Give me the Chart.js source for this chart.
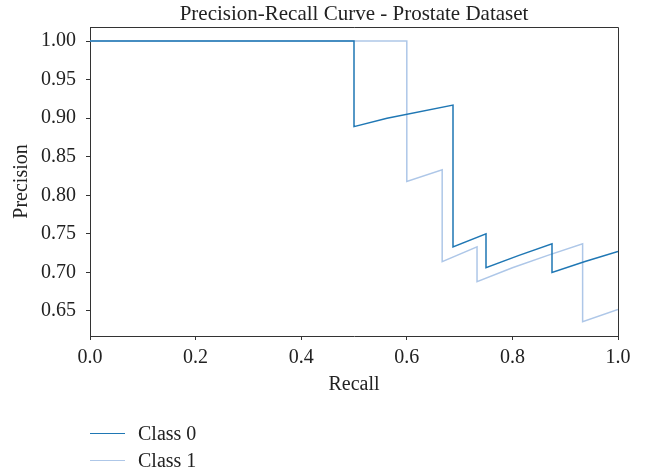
<!DOCTYPE html>
<html>
<head>
<meta charset="utf-8">
<script src="https://cdn.jsdelivr.net/npm/chart.js@4.4.0/dist/chart.umd.min.js"></script>
<style>
  html, body { margin: 0; padding: 0; background: #ffffff; }
  #wrap { position: relative; width: 653px; height: 473px; }
  #legend { position: absolute; left: 90px; top: 420px; font-family: 'Liberation Serif', serif; font-size: 20px; color: #222; }
  .item { display: flex; align-items: center; height: 27px; }
  .swatch { width: 35px; height: 0; border-top: 1.5px solid; margin-right: 13px; }
</style>
</head>
<body>
<div id="wrap">
  <canvas id="prChart" width="653" height="473"></canvas>
  <div id="legend"></div>
</div>
<script>
// Precision-recall points
const class0Recall = [0.0, 0.5, 0.5, 0.5625, 0.6875, 0.6875, 0.75, 0.75, 0.8125, 0.875, 0.875, 0.9375, 1.0];
const class0Precision = [1.0, 1.0, 0.889, 0.900, 0.917, 0.733, 0.750, 0.706, 0.722, 0.737, 0.700, 0.714, 0.727];

const class1Recall = [0.0, 0.6, 0.6, 0.667, 0.667, 0.733, 0.733, 0.8, 0.867, 0.933, 0.933, 1.0];
const class1Precision = [1.0, 1.0, 0.818, 0.833, 0.714, 0.733, 0.688, 0.706, 0.722, 0.737, 0.636, 0.652];

const seriesNames = ['Class 0', 'Class 1'];
const seriesColors = ['#1f77b4', '#aec7e8'];

const xTicks = [0.0, 0.2, 0.4, 0.6, 0.8, 1.0];
const yTicks = [0.65, 0.70, 0.75, 0.80, 0.85, 0.90, 0.95, 1.00];

const FONT = "'Liberation Serif', serif";
const AXIS_COLOR = '#333333';

function toPoints(xs, ys) {
  return xs.map((x, i) => ({ x: x, y: ys[i] }));
}

// draw top and right spines like matplotlib
const frameBox = {
  id: 'frameBox',
  afterDraw(chart) {
    const a = chart.chartArea;
    const ctx = chart.ctx;
    ctx.save();
    ctx.strokeStyle = AXIS_COLOR;
    ctx.lineWidth = 1;
    ctx.beginPath();
    ctx.moveTo(a.left, a.top + 0.5);
    ctx.lineTo(a.right + 0.5, a.top + 0.5);
    ctx.lineTo(a.right + 0.5, a.bottom);
    ctx.stroke();
    ctx.restore();
  }
};

document.addEventListener('DOMContentLoaded', function() {
  const ctx = document.getElementById('prChart');

  new Chart(ctx, {
    type: 'scatter',
    data: {
      datasets: [
        {
          label: seriesNames[0],
          data: toPoints(class0Recall, class0Precision),
          borderColor: seriesColors[0],
          backgroundColor: seriesColors[0],
          borderWidth: 1.5,
          showLine: true,
          pointRadius: 0,
          tension: 0
        },
        {
          label: seriesNames[1],
          data: toPoints(class1Recall, class1Precision),
          borderColor: seriesColors[1],
          backgroundColor: seriesColors[1],
          borderWidth: 1.5,
          showLine: true,
          pointRadius: 0,
          tension: 0
        }
      ]
    },
    options: {
      responsive: false,
      animation: false,
      layout: {
        padding: { left: 0, right: 35, top: 0.8, bottom: 76 }
      },
      plugins: {
        legend: { display: false },
        tooltip: { enabled: false },
        title: {
          display: true,
          fullSize: false,  // center over the plot area, not the canvas
          text: 'Precision-Recall Curve - Prostate Dataset',
          color: '#222',
          font: { family: FONT, size: 21, weight: 'normal', lineHeight: 1.2 },
          padding: { top: 1, bottom: 0 }
        }
      },
      scales: {
        x: {
          type: 'linear',
          min: 0,
          max: 1,
          afterFit(scale) { scale.height = 61; },
          afterBuildTicks(scale) { scale.ticks = xTicks.map(v => ({ value: v })); },
          border: { display: true, color: AXIS_COLOR, width: 1 },
          grid: { drawOnChartArea: false, drawTicks: true, tickLength: 4, color: AXIS_COLOR },
          ticks: {
            color: '#222',
            padding: 6,
            maxRotation: 0,
            font: { family: FONT, size: 20 },
            callback: v => v.toFixed(1)
          },
          title: {
            display: true,
            text: 'Recall',
            color: '#222',
            font: { family: FONT, size: 20 },
            padding: { top: 4, bottom: 0 }
          }
        },
        y: {
          type: 'linear',
          min: 0.6175,
          max: 1.0182,
          afterFit(scale) { scale.width = 90; },
          afterBuildTicks(scale) { scale.ticks = yTicks.map(v => ({ value: v })); },
          border: { display: true, color: AXIS_COLOR, width: 1 },
          grid: { drawOnChartArea: false, drawTicks: true, tickLength: 4, color: AXIS_COLOR },
          ticks: {
            color: '#222',
            padding: 10,
            font: { family: FONT, size: 20 },
            callback: v => v.toFixed(2)
          },
          title: {
            display: true,
            text: 'Precision',
            color: '#222',
            font: { family: FONT, size: 20 },
            padding: { top: 10, bottom: 0 }
          }
        }
      }
    },
    plugins: [frameBox]
  });

  // legend stacked vertically under the plot
  const legend = document.getElementById('legend');
  legend.innerHTML = seriesNames.map((name, i) => `
    <div class="item"><span class="swatch" style="border-color: ${seriesColors[i]};"></span>${name}</div>
  `).join('');
});
</script>
</body>
</html>
